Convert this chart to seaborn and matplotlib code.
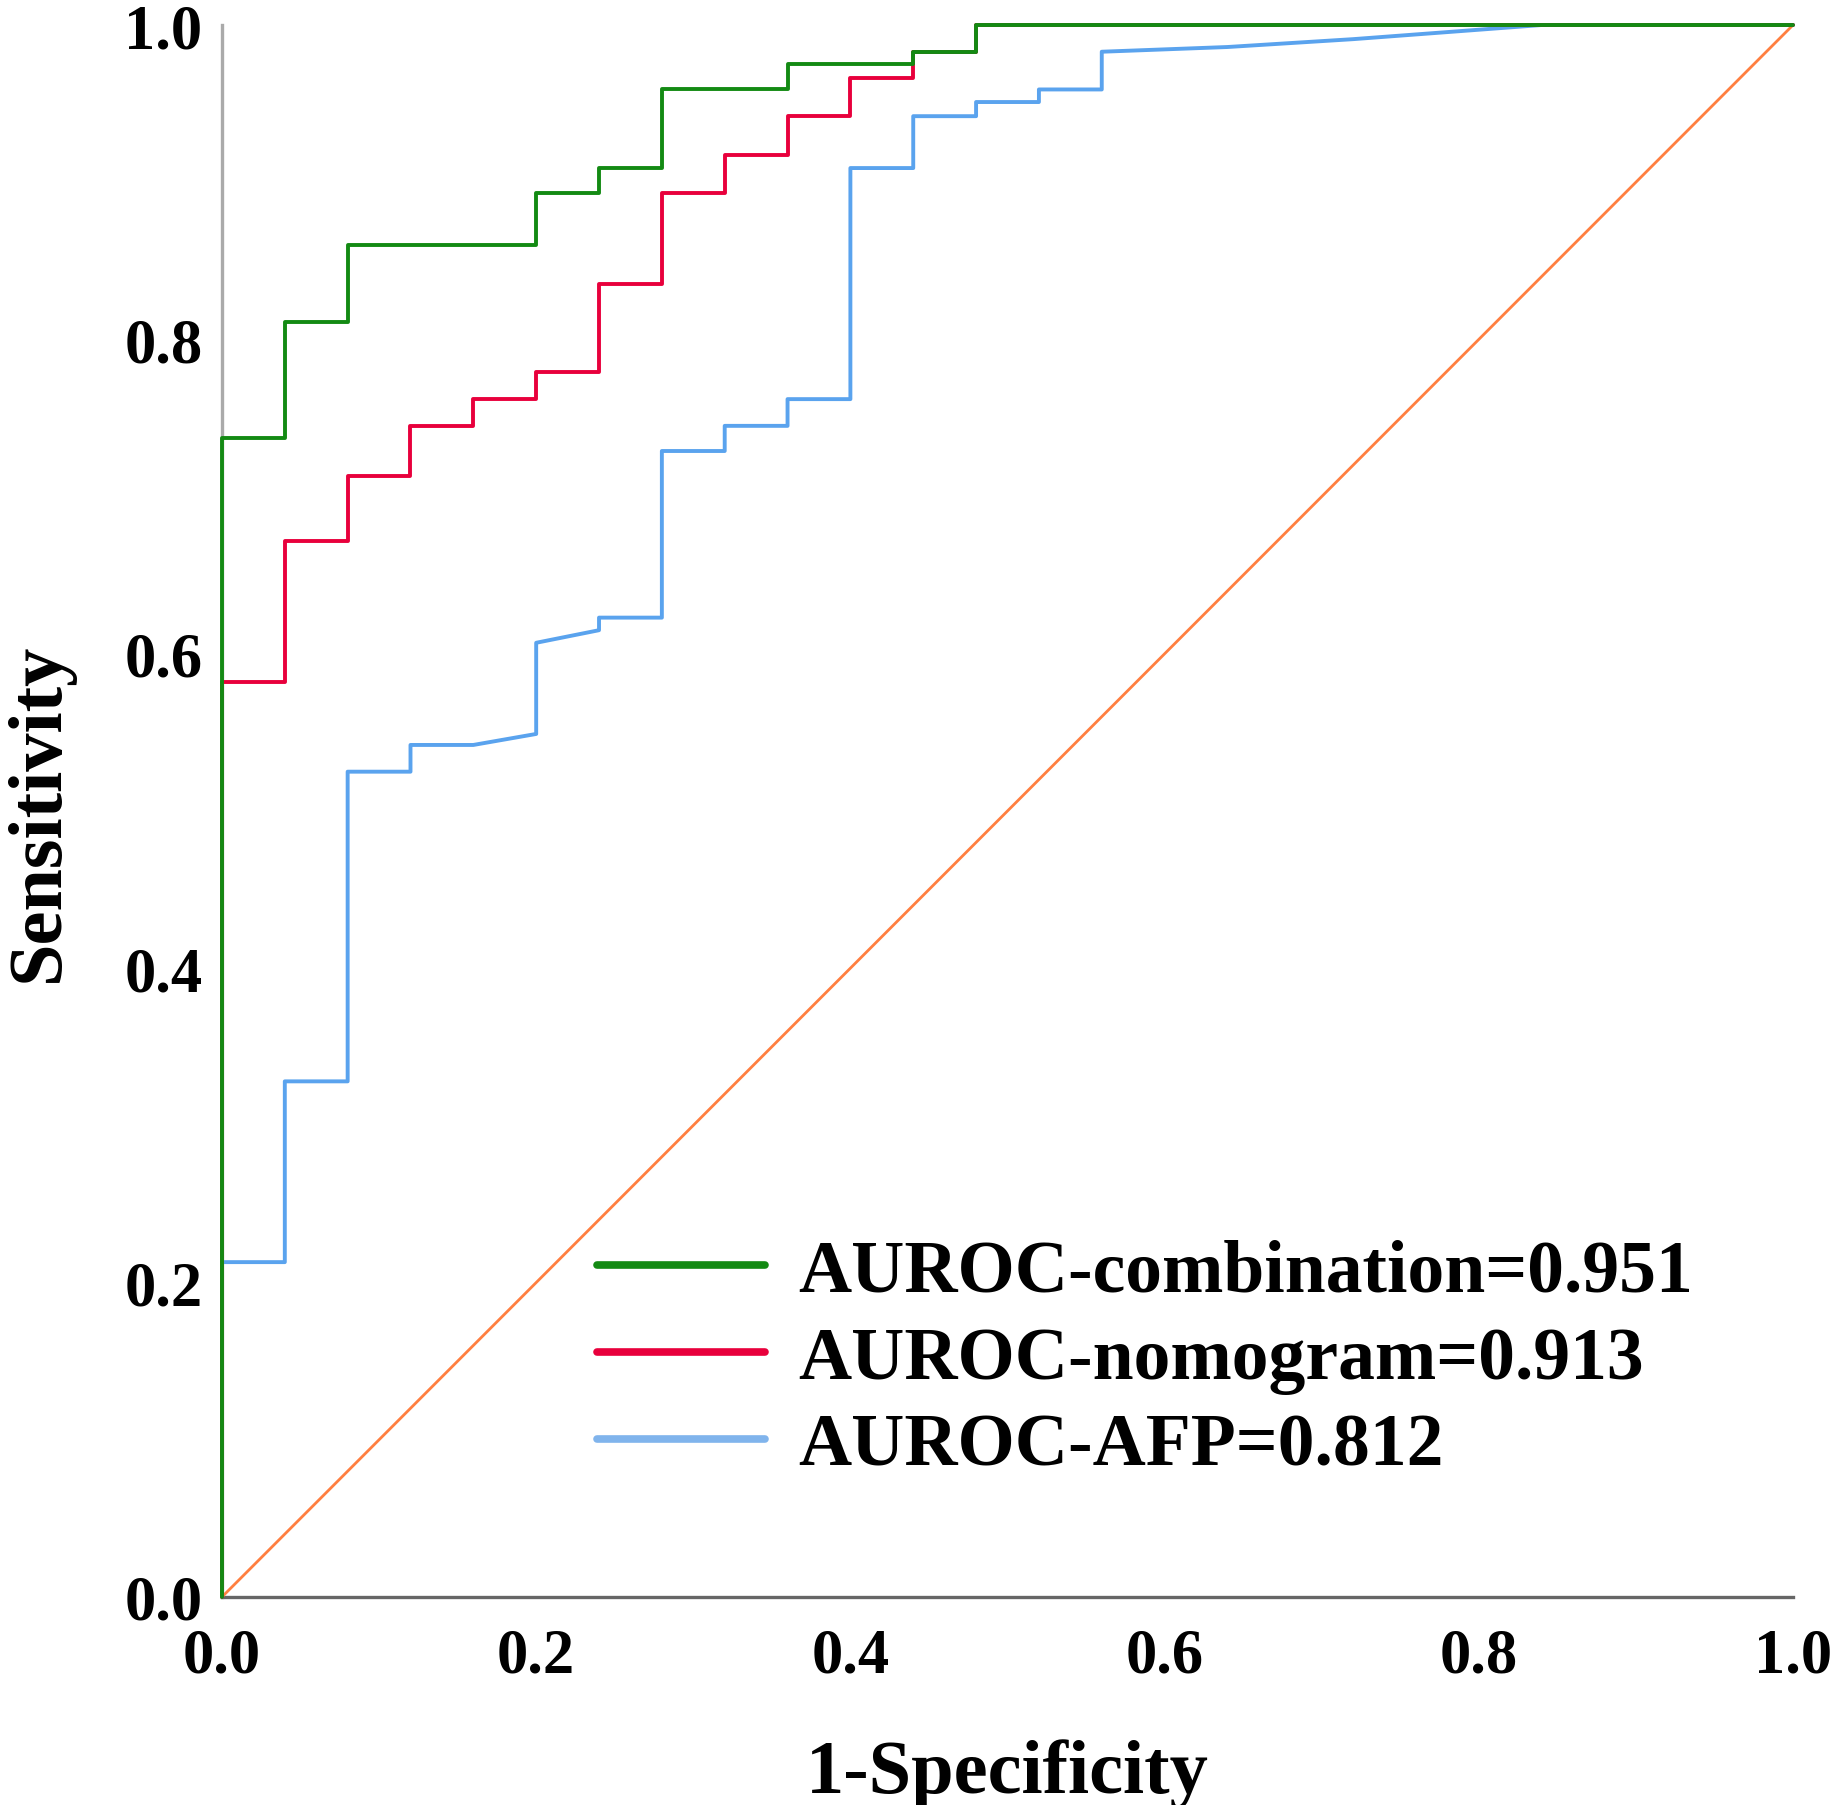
import matplotlib
matplotlib.use("Agg")
import matplotlib.pyplot as plt
import seaborn as sns
import pandas as pd

# ROC curve points (1-Specificity, Sensitivity)
comb_fpr = [0, 0, 0.04, 0.04, 0.08, 0.08, 0.20, 0.20, 0.24, 0.24, 0.28, 0.28,
            0.36, 0.36, 0.44, 0.44, 0.48, 0.48, 1.0]
comb_tpr = [0, 0.737, 0.737, 0.811, 0.811, 0.860, 0.860, 0.893, 0.893, 0.909, 0.909, 0.959,
            0.959, 0.975, 0.975, 0.983, 0.983, 1.0, 1.0]

nomo_fpr = [0, 0, 0.04, 0.04, 0.08, 0.08, 0.12, 0.12, 0.16, 0.16, 0.20, 0.20, 0.24, 0.24,
            0.28, 0.28, 0.32, 0.32, 0.36, 0.36, 0.40, 0.40, 0.44, 0.44, 0.48, 0.48, 1.0]
nomo_tpr = [0, 0.582, 0.582, 0.672, 0.672, 0.713, 0.713, 0.745, 0.745, 0.762, 0.762, 0.779,
            0.779, 0.835, 0.835, 0.893, 0.893, 0.917, 0.917, 0.942, 0.942, 0.966, 0.966,
            0.983, 0.983, 1.0, 1.0]

afp_fpr = [0, 0, 0.04, 0.04, 0.08, 0.08, 0.12, 0.12, 0.16, 0.20, 0.20, 0.24, 0.24, 0.28,
           0.28, 0.32, 0.32, 0.36, 0.36, 0.40, 0.40, 0.44, 0.44, 0.48, 0.48, 0.52, 0.52,
           0.56, 0.56, 0.64, 0.72, 0.80, 0.84, 1.0]
afp_tpr = [0, 0.213, 0.213, 0.328, 0.328, 0.525, 0.525, 0.542, 0.542, 0.549, 0.607, 0.615,
           0.623, 0.623, 0.729, 0.729, 0.745, 0.745, 0.762, 0.762, 0.909, 0.909, 0.942,
           0.942, 0.951, 0.951, 0.959, 0.959, 0.983, 0.986, 0.991, 0.997, 1.0, 1.0]

ref_x = [0, 1]
ref_y = [0, 1]

labels = ["AUROC-combination=0.951", "AUROC-nomogram=0.913", "AUROC-AFP=0.812"]
colors = ["#138a13", "#e8003c", "#5aa3ee"]
ticks = [0.0, 0.2, 0.4, 0.6, 0.8, 1.0]

sns.set_theme(style="white")
plt.rcParams["font.family"] = ["Liberation Serif", "DejaVu Serif"]
plt.rcParams["font.weight"] = "bold"
plt.rcParams["text.color"] = "black"
plt.rcParams["axes.labelcolor"] = "black"
plt.rcParams["xtick.color"] = "black"
plt.rcParams["ytick.color"] = "black"

fig = plt.figure(figsize=(18.39, 18.06), dpi=100)
ax = fig.add_axes([0.1207, 0.1152, 0.8543, 0.8704])

# diagonal reference
sns.lineplot(x=ref_x, y=ref_y, color="#ff7f40", linewidth=2.0, ax=ax,
             estimator=None, sort=False, clip_on=False, zorder=3)

curves = [(afp_fpr, afp_tpr, labels[2], colors[2]),
          (nomo_fpr, nomo_tpr, labels[1], colors[1]),
          (comb_fpr, comb_tpr, labels[0], colors[0])]
for fx, ty, lab, col in curves:
    df = pd.DataFrame({"fpr": fx, "tpr": ty})
    sns.lineplot(data=df, x="fpr", y="tpr", color=col, linewidth=2.8, ax=ax,
                 estimator=None, sort=False, clip_on=False, zorder=3)

ax.set_xlim(0, 1)
ax.set_ylim(0, 1)
ax.set_xticks(ticks)
ax.set_yticks(ticks)
ax.set_xticklabels([f"{t:.1f}" for t in ticks], fontsize=45, fontweight="bold")
ax.set_yticklabels([f"{t:.1f}" for t in ticks], fontsize=45, fontweight="bold")
ax.tick_params(axis="both", length=0)
ax.tick_params(axis="x", pad=22)
ax.tick_params(axis="y", pad=14)

ax.set_xlabel("1-Specificity", fontsize=55, fontweight="bold", labelpad=38)
ax.set_ylabel("Sensitivity", fontsize=55, fontweight="bold", labelpad=36)

for side in ["top", "right"]:
    ax.spines[side].set_visible(False)
ax.spines["left"].set_color("#aaaaaa")
ax.spines["bottom"].set_color("#666666")
ax.spines["left"].set_linewidth(2.4)
ax.spines["bottom"].set_linewidth(2.4)

handles = [plt.Line2D([], [], color=c, linewidth=5.5) for c in colors[:2]]
handles.append(plt.Line2D([], [], color="#80b4ec", linewidth=5.5))
ax.legend(handles, labels, loc="center left", bbox_to_anchor=(0.239, 0.151),
          frameon=False, prop={"size": 53, "weight": "bold"},
          handlelength=2.28, handletextpad=0.45, labelspacing=0.26,
          borderpad=0, borderaxespad=0)

fig.savefig("out.png", dpi=100)
